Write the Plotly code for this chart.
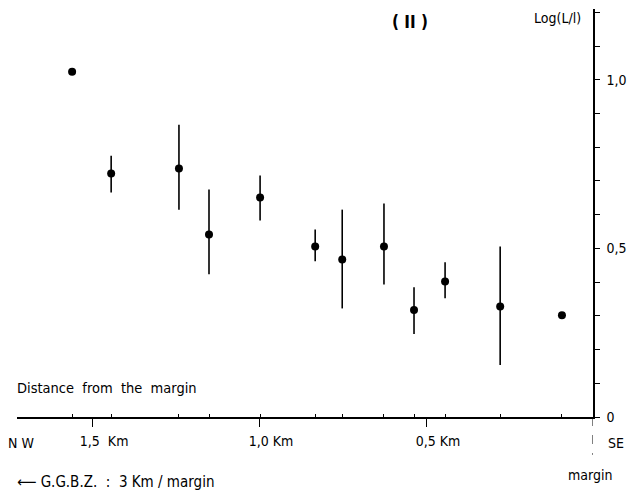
import plotly.graph_objects as go

# Distance from the margin (km) and Log(L/l) values
distance_km = [1.56, 1.443, 1.24, 1.15, 0.997, 0.832, 0.751, 0.626, 0.536, 0.443, 0.278, 0.093]
log_ratio = [1.024, 0.722, 0.737, 0.541, 0.651, 0.506, 0.467, 0.506, 0.317, 0.402, 0.328, 0.302]
err_upper = [0.0, 0.053, 0.130, 0.134, 0.065, 0.050, 0.148, 0.127, 0.068, 0.057, 0.178, 0.0]
err_lower = [0.0, 0.056, 0.122, 0.118, 0.068, 0.044, 0.145, 0.113, 0.071, 0.050, 0.174, 0.0]

x_tickvals = [1.5, 1.0, 0.5]
x_ticktext = ["1,5  Km", "1,0 Km", "0,5 Km"]
y_tickvals = [0, 0.5, 1.0]
y_ticktext = ["0", "0,5", "1,0"]

FONT = "DejaVu Sans Condensed, DejaVu Sans, sans-serif"

fig = go.Figure()
fig.add_trace(go.Scatter(
    x=distance_km, y=log_ratio, mode="markers",
    marker=dict(color="black", size=8),
    error_y=dict(type="data", symmetric=False, array=err_upper, arrayminus=err_lower,
                 color="black", thickness=1.6, width=0),
    showlegend=False,
))

fig.update_layout(
    width=629, height=492,
    margin=dict(l=17, r=36, t=9, b=75),
    paper_bgcolor="white", plot_bgcolor="white",
    font=dict(family=FONT, size=14, color="black"),
    xaxis=dict(
        range=[1.725, 0], showgrid=False, zeroline=False, automargin=False,
        showline=True, linecolor="black", linewidth=1.5,
        tickmode="array", tickvals=x_tickvals, ticktext=x_ticktext,
        ticks="outside", ticklen=8, tickwidth=1.2, tickcolor="black",
        ticklabelshift=-12, ticklabelstandoff=2,
        tickfont=dict(family=FONT, size=14),
        minor=dict(tickmode="array", tickvals=distance_km, ticks="inside",
                   ticklen=3, tickwidth=1, tickcolor="black", showgrid=False),
    ),
    yaxis=dict(
        range=[0, 1.21], side="right", showgrid=False, zeroline=False, automargin=False,
        showline=True, linecolor="black", linewidth=1.5,
        tickmode="array", tickvals=y_tickvals, ticktext=y_ticktext,
        ticks="outside", ticklen=5, tickwidth=1.2, tickcolor="black",
        ticklabelstandoff=4,
        tickfont=dict(family=FONT, size=14),
        minor=dict(dtick=0.1, tick0=0, ticks="outside", ticklen=5,
                   tickwidth=1.2, tickcolor="black", showgrid=False),
    ),
)

# dashed margin line below the axis
fig.add_shape(type="line", xref="x", yref="paper", x0=0, x1=0, y0=0, y1=-0.093,
              line=dict(color="black", width=1, dash="dash"))

ann = [
    dict(text="<b>( II )</b>", x=0.682, y=0.968, size=17, xanchor="center"),
    dict(text="Log(L/l)", x=0.939, y=0.978, size=14, xanchor="center"),
    dict(text="Distance  from  the  margin", x=-0.003, y=0.071, size=14.5, xanchor="left"),
    dict(text="N W", x=0.007, y=-0.063, size=14, xanchor="center"),
    dict(text="SE", x=1.040, y=-0.063, size=14, xanchor="center"),
    dict(text="margin", x=0.995, y=-0.142, size=14, xanchor="center"),
    dict(text="⟵ G.G.B.Z.  :  3 Km / margin", x=-0.003, y=-0.159, size=15, xanchor="left"),
]
for a in ann:
    fig.add_annotation(text=a["text"], x=a["x"], y=a["y"], xref="paper", yref="paper",
                       xanchor=a["xanchor"], yanchor="middle", showarrow=False,
                       font=dict(family=FONT, size=a["size"], color="black"))

fig.write_html("out.html", config={"displayModeBar": False},
               post_script="document.body.style.margin='0px';")
